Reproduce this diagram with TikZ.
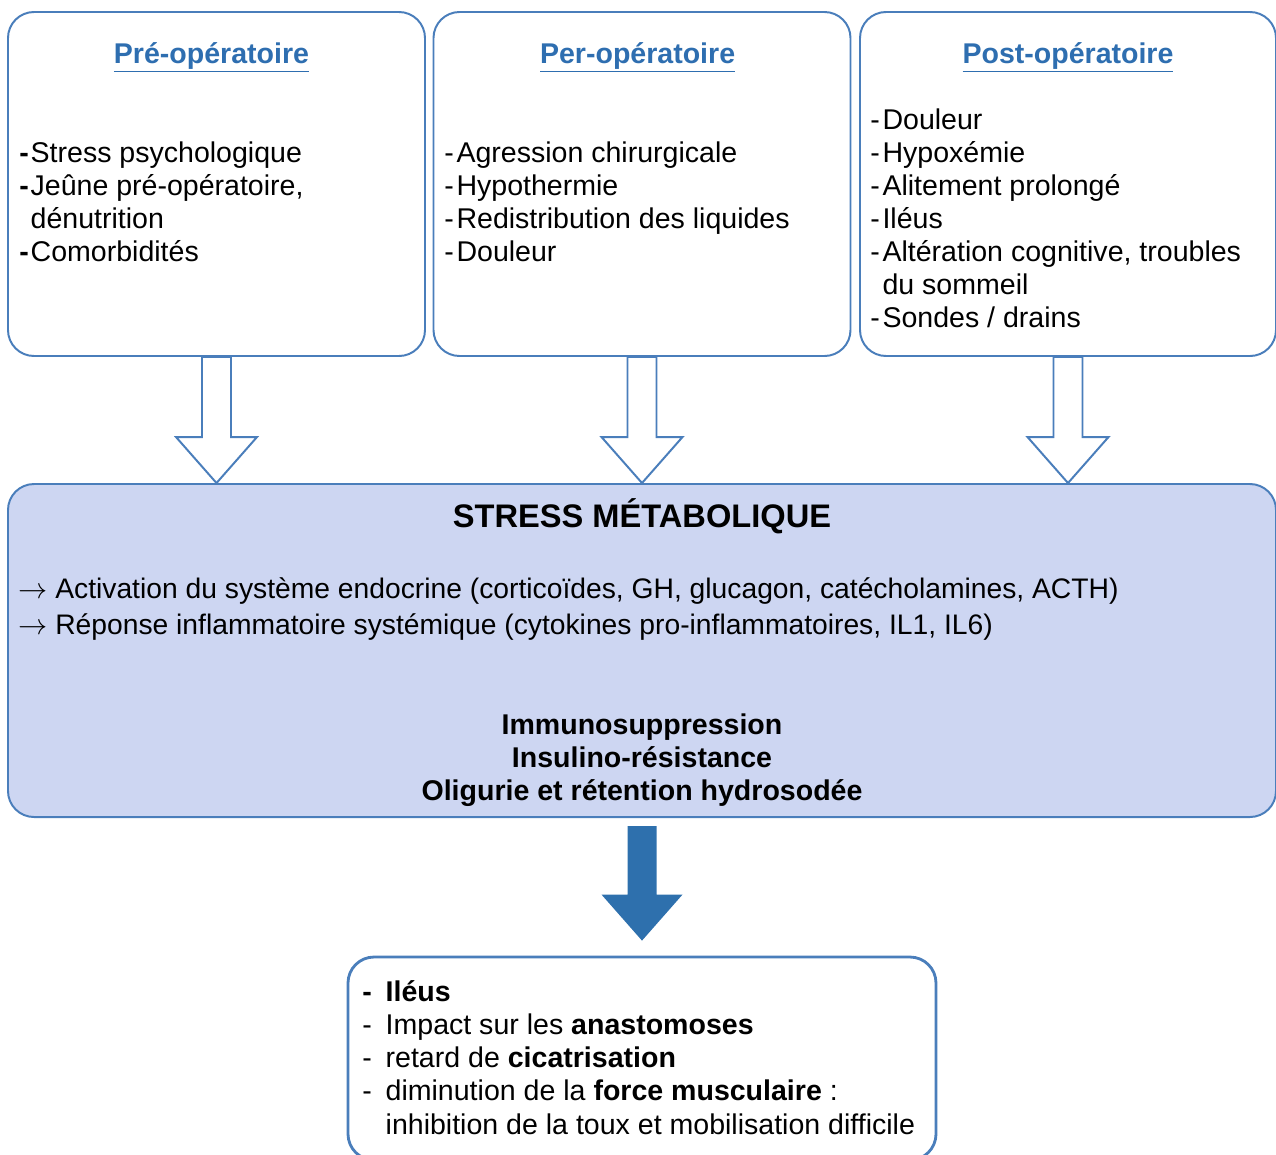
\documentclass[tikz,border=0pt]{standalone}
\usepackage{fontspec}
\setmainfont{Liberation Sans}
\usetikzlibrary{positioning,calc}

\definecolor{frameblue}{RGB}{74,126,187}
\definecolor{titleblue}{RGB}{46,110,176}
\definecolor{stressfill}{RGB}{205,214,242}
\definecolor{arrowblue}{RGB}{46,112,173}

\newcommand{\bodyfont}{\fontsize{20.3pt}{23.5pt}\selectfont}
\newcommand{\stressfont}{\fontsize{20.1pt}{25.6pt}\selectfont}
\newcommand{\bdash}{\makebox[0.4em][l]{\textbf{-}}}
\newcommand{\ldash}{\makebox[0.43em][l]{-}}
\newcommand{\wdash}{\makebox[0.82em][l]{-}}

% block arrow from one node to another: style, from, to
\newcommand{\blockarrow}[3]{%
  \path[#1] let \p1=(#2), \p2=(#3) in
    (\x1-0.3625cm,\y1) -- (\x1+0.3625cm,\y1) -- (\x1+0.3625cm,\y2+1.15cm)
    -- (\x1+1.0125cm,\y2+1.15cm) -- (\x1,\y2) -- (\x1-1.0125cm,\y2+1.15cm)
    -- (\x1-0.3625cm,\y2+1.15cm) -- cycle;}

\begin{document}
\begin{tikzpicture}[
        phasebox/.style={rectangle, rounded corners=0.65cm, draw=frameblue, line width=1.4pt, fill=white, minimum width=10.425cm, minimum height=8.6cm},
        phasetitle/.style={anchor=base, font=\bodyfont\bfseries, text=titleblue, inner sep=0pt},
        itemlist/.style={anchor=west, align=left, font=\bodyfont, inner sep=0pt},
        stressbox/.style={rectangle, rounded corners=0.65cm, draw=frameblue, line width=1.4pt, fill=stressfill, minimum width=31.7cm, minimum height=8.325cm},
        resultbox/.style={rectangle, rounded corners=0.65cm, draw=frameblue, line width=2pt, fill=white, minimum width=14.7cm, minimum height=5.075cm},
        hollowarrow/.style={draw=frameblue, line width=1.4pt, fill=white},
        fullarrow/.style={fill=arrowblue}
    ]
        \useasboundingbox (0,0) rectangle (31.9,-28.85);

% Phases
        \node[phasebox] (pre) at (5.4125,-4.6) {};
        \node[phasebox] (per) at (16.05,-4.6) {};
        \node[phasebox, minimum width=10.4cm] (post) at (26.7,-4.6) {};

        \node[phasetitle] (pretitle) at ($(pre.north)+(-0.125,-1.3)$) {\underline{Pré-opératoire}};
        \node[phasetitle] (pertitle) at ($(per.north)+(-0.11,-1.3)$) {\underline{Per-opératoire}};
        \node[phasetitle] (posttitle) at ($(post.north)+(0,-1.3)$) {\underline{Post-opératoire}};

        \node[itemlist] (prelist) at (0.475,-5.04) {\bdash Stress psychologique\\
            \bdash Jeûne pré-opératoire,\\
            \hspace*{0.4em}dénutrition\\
            \bdash Comorbidités};
        \node[itemlist] (perlist) at (11.1,-5.04) {\ldash Agression chirurgicale\\
            \ldash Hypothermie\\
            \ldash Redistribution des liquides\\
            \ldash Douleur};
        \node[itemlist] (postlist) at (21.75,-5.46) {\ldash Douleur\\
            \ldash Hypoxémie\\
            \ldash Alitement prolongé\\
            \ldash Iléus\\
            \ldash Altération cognitive, troubles\\
            \hspace*{0.43em}du sommeil\\
            \ldash Sondes / drains};

% Metabolic stress
        \node[stressbox] (stress) at (16.05,-16.2625) {};
        \node[anchor=base, font=\fontsize{23.2pt}{27pt}\selectfont\bfseries, inner sep=0pt] (stresstitle) at (16.05,-13.19) {STRESS MÉTABOLIQUE};
        \node[itemlist, font=\stressfont] (stresslist) at (0.45,-15.23) {$\rightarrow$ Activation du système endocrine (corticoïdes, GH, glucagon, catécholamines, ACTH)\\
            $\rightarrow$ Réponse inflammatoire systémique (cytokines pro-inflammatoires, IL1, IL6)};
        \node[align=center, font=\bodyfont\bfseries, inner sep=0pt] (effects) at (16.05,-19.0) {Immunosuppression\\
            Insulino-résistance\\
            Oligurie et rétention hydrosodée};

% Consequences
        \node[resultbox] (result) at (16.05,-26.4625) {};
        \node[itemlist] (resultlist) at (9.05,-26.44) {\textbf{\wdash Iléus}\\
            \wdash Impact sur les \textbf{anastomoses}\\
            \wdash retard de \textbf{cicatrisation}\\
            \wdash diminution de la \textbf{force musculaire} :\\
            \hspace*{0.82em}inhibition de la toux et mobilisation difficile};

% Arrows
        \blockarrow{hollowarrow}{pre.south}{stress.north}
        \blockarrow{hollowarrow}{per.south}{stress.north -| per.south}
        \blockarrow{hollowarrow}{post.south}{stress.north -| post.south}
        \blockarrow{fullarrow}{$(stress.south)+(0,-0.2)$}{$(result.north)+(0,0.375)$}
    \end{tikzpicture}
\end{document}
